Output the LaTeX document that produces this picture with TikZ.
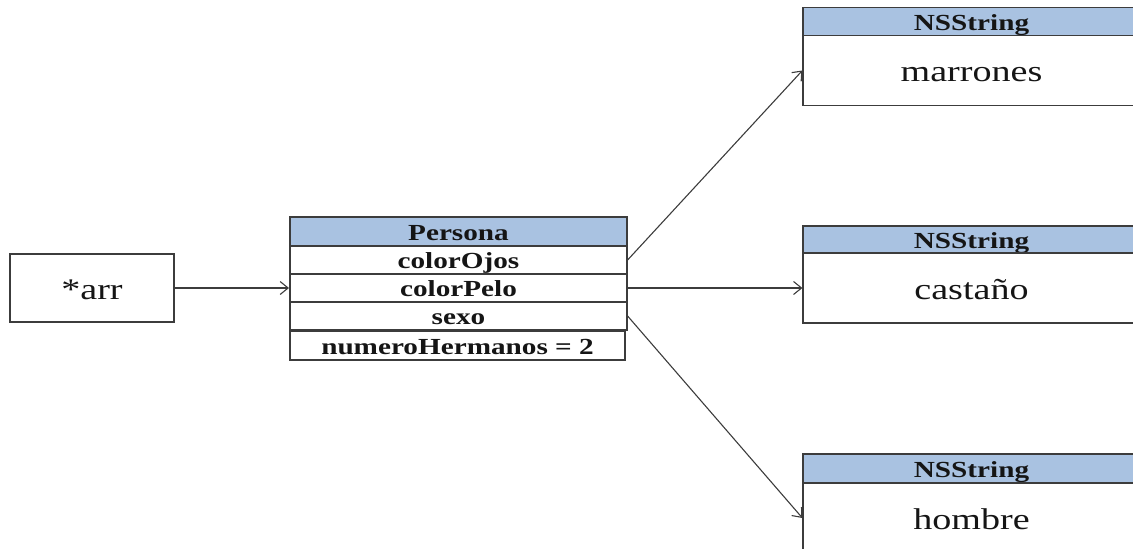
\documentclass[tikz,border=0pt]{standalone}
\usepackage{fontspec}
\setmainfont[FakeStretch=1.27]{Liberation Serif}
\usetikzlibrary{arrows.meta}
\definecolor{hdrblue}{HTML}{A9C2E1}
\definecolor{edge}{HTML}{3C3C3C}
\definecolor{ink}{HTML}{151515}
\tikzset{
  box/.style={draw=edge, line width=1.2pt, fill=white, inner sep=0pt, text=ink},
  boldtext/.style={font=\fontsize{23}{24}\selectfont\bfseries, text height=17.5pt, text depth=0pt},
  hdr/.style={box, boldtext, fill=hdrblue},
  field/.style={box, boldtext, minimum width=337pt, minimum height=28pt},
  thick field/.style={field, line width=2pt},
  value/.style={box, font=\fontsize{30}{32}\selectfont, text height=22pt, text depth=0pt},
  link/.style={draw=edge, line width=1.1pt, -{Straight Barb[length=8pt, width=13pt, line width=1.1pt]}}
}
\begin{document}
\begin{tikzpicture}[x=1pt, y=-1pt]
  \useasboundingbox (0,0) rectangle (1133,549);
  \clip (0,0) rectangle (1133,549);

  % pointer variable
  \node[value, minimum width=164pt, minimum height=68pt] (arr) at (92,288) {*arr};

  % Persona object
  \node[hdr, minimum width=337pt, minimum height=29pt] (persona) at (458.5,231.5) {Persona};
  \node[field] (ojos) at (458.5,260) {colorOjos};
  \node[thick field] (pelo) at (458.5,288) {colorPelo};
  \node[field] (sexo) at (458.5,316) {sexo};
  \node[thick field, minimum width=335pt, minimum height=29pt] (herm) at (457.5,345.5) {numeroHermanos = 2};

  % NSString objects
  \node[hdr, minimum width=337pt, minimum height=28pt] (s1h) at (971.5,21.5) {NSString};
  \node[value, minimum width=337pt, minimum height=70pt] (s1) at (971.5,70.5) {marrones};

  \node[hdr, minimum width=337pt, minimum height=27pt] (s2h) at (971.5,239.5) {NSString};
  \node[value, minimum width=337pt, minimum height=70pt] (s2) at (971.5,288) {castaño};

  \node[hdr, minimum width=337pt, minimum height=29pt] (s3h) at (971.5,468.5) {NSString};
  \node[value, minimum width=337pt, minimum height=70pt] (s3) at (971.5,518) {hombre};

  % references
  \draw[link] (arr.east) -- (pelo.west);
  \draw[link] (ojos.east) -- (s1.west);
  \draw[link] (pelo.east) -- (s2.west);
  \draw[link] (sexo.east) -- (s3.west);
\end{tikzpicture}
\end{document}
